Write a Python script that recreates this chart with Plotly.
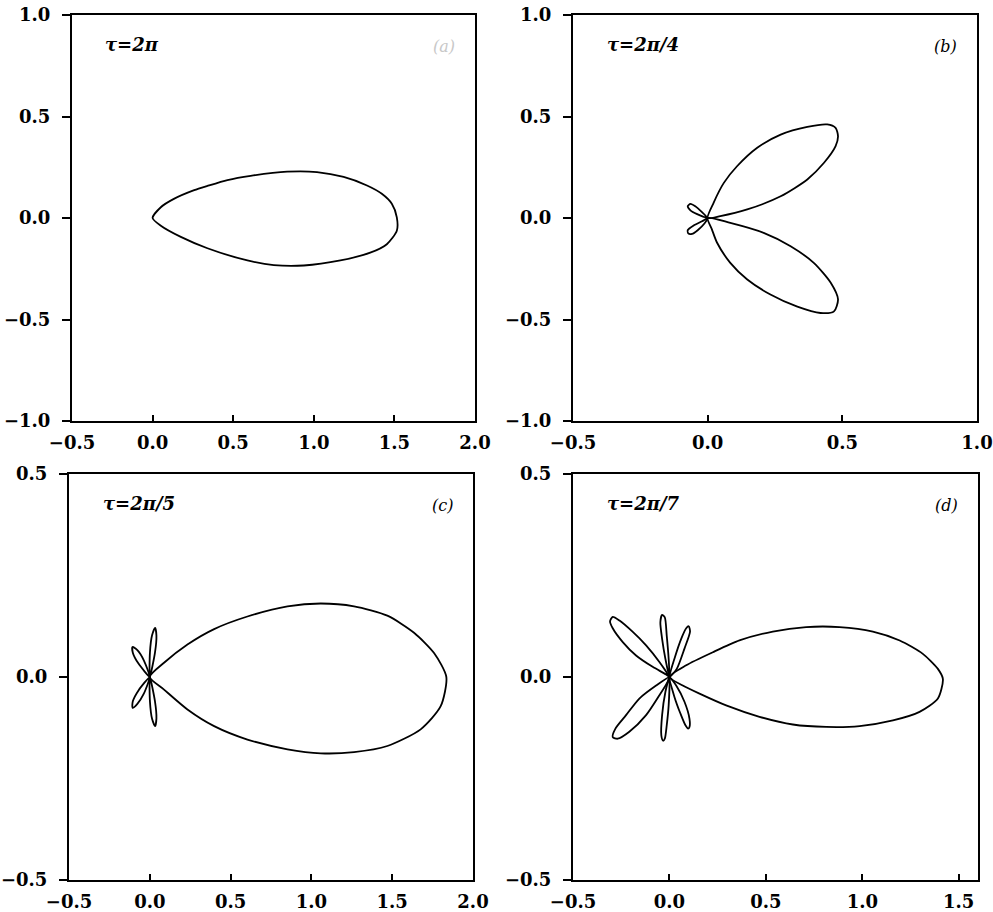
import plotly.graph_objects as go

# ---------------- data ----------------
# panel (a): tau = 2*pi
A_X = [0.0, 0.051, 0.132, 0.258, 0.340, 0.464, 0.608, 0.835, 1.020, 1.185, 1.330, 1.422, 1.484, 1.515,
       1.515, 1.453, 1.350, 1.165, 0.938, 0.752, 0.588, 0.340, 0.175, 0.051, 0.0]
A_Y = [0.0, 0.053, 0.094, 0.137, 0.158, 0.187, 0.208, 0.228, 0.226, 0.202, 0.160, 0.119, 0.070, 0.003,
       -0.063, -0.129, -0.171, -0.209, -0.234, -0.232, -0.209, -0.149, -0.093, -0.038, 0.0]

# panel (b): tau = 2*pi/4
B_UP_X = [0, 0.022, 0.060, 0.109, 0.184, 0.271, 0.370, 0.444, 0.475, 0.484, 0.475, 0.432, 0.370, 0.271, 0.147, 0.047, 0]
B_UP_Y = [0, 0.075, 0.173, 0.255, 0.346, 0.411, 0.449, 0.461, 0.444, 0.403, 0.354, 0.272, 0.190, 0.107, 0.042, 0.009, 0]
B_LO_X = [0, 0.016, 0.035, 0.084, 0.147, 0.233, 0.333, 0.419, 0.469, 0.484, 0.457, 0.394, 0.308, 0.208, 0.084, 0]
B_LO_Y = [0, -0.057, -0.122, -0.221, -0.303, -0.377, -0.437, -0.468, -0.460, -0.401, -0.319, -0.221, -0.139, -0.073, -0.024, 0]
B_SU_X = [0, -0.021, -0.046, -0.064, -0.074, -0.064, -0.039, -0.015, 0]
B_SU_Y = [0, 0.029, 0.058, 0.070, 0.058, 0.038, 0.019, 0.006, 0]
B_SL_X = [0, -0.021, -0.052, -0.074, -0.072, -0.058, -0.037, -0.012, 0]
B_SL_Y = [0, -0.016, -0.037, -0.060, -0.076, -0.078, -0.060, -0.027, 0]

# panel (c): tau = 2*pi/5
C_MAIN_X = [0.0, 0.088, 0.233, 0.398, 0.604, 0.852, 1.058, 1.264, 1.470, 1.635, 1.759, 1.835,
            1.800, 1.676, 1.470, 1.264, 1.058, 0.852, 0.604, 0.398, 0.233, 0.088, 0.0]
C_MAIN_Y = [0.0, 0.035, 0.080, 0.118, 0.149, 0.174, 0.181, 0.174, 0.151, 0.109, 0.059, 0.0,
            -0.072, -0.129, -0.170, -0.185, -0.188, -0.178, -0.154, -0.121, -0.080, -0.031, 0.0]
C_P1_X = [0, 0.001, 0.014, 0.033, 0.041, 0.032, 0]
C_P1_Y = [0, 0.061, 0.103, 0.121, 0.102, 0.060, 0]
C_P2_X = [0, -0.037, -0.077, -0.107, -0.105, -0.070, 0]
C_P2_Y = [0, 0.041, 0.066, 0.074, 0.060, 0.033, 0]
C_P3_X = [0, -0.070, -0.105, -0.107, -0.077, -0.037, 0]
C_P3_Y = [0, -0.033, -0.060, -0.076, -0.066, -0.041, 0]
C_P4_X = [0, 0.032, 0.041, 0.033, 0.014, 0.001, 0]
C_P4_Y = [0, -0.060, -0.102, -0.121, -0.103, -0.061, 0]

# panel (d): tau = 2*pi/7
D_MAIN_X = [0.0, 0.087, 0.225, 0.363, 0.536, 0.709, 0.882, 1.055, 1.194, 1.314, 1.392, 1.418,
            1.392, 1.297, 1.159, 0.986, 0.813, 0.640, 0.467, 0.294, 0.156, 0.069, 0.0]
D_MAIN_Y = [0.0, 0.029, 0.061, 0.090, 0.112, 0.123, 0.123, 0.112, 0.090, 0.057, 0.020, -0.005,
            -0.053, -0.086, -0.107, -0.121, -0.123, -0.117, -0.098, -0.070, -0.041, -0.021, 0.0]
D_P1_X = [0, -0.052, -0.121, -0.190, -0.259, -0.294, -0.308, -0.294, -0.242, -0.173, -0.087, -0.017, 0]
D_P1_Y = [0, 0.037, 0.078, 0.111, 0.139, 0.148, 0.137, 0.120, 0.086, 0.053, 0.025, 0.006, 0]
D_P2_X = [0, -0.069, -0.156, -0.225, -0.280, -0.294, -0.268, -0.208, -0.121, -0.052, -0.009, 0]
D_P2_Y = [0, -0.021, -0.053, -0.094, -0.127, -0.148, -0.152, -0.135, -0.094, -0.045, -0.012, 0]
D_P3_X = [0, -0.021, -0.038, -0.047, -0.038, -0.024, -0.014, -0.004, 0]
D_P3_Y = [0, 0.045, 0.094, 0.135, 0.153, 0.147, 0.102, 0.045, 0]
D_P4_X = [0, 0.026, 0.061, 0.087, 0.100, 0.107, 0.078, 0.038, 0]
D_P4_Y = [0, 0.045, 0.094, 0.120, 0.125, 0.112, 0.070, 0.020, 0]
D_P5_X = [0, -0.004, -0.014, -0.024, -0.033, -0.042, -0.038, -0.021, 0]
D_P5_Y = [0, -0.070, -0.119, -0.152, -0.157, -0.144, -0.094, -0.037, 0]
D_P6_X = [0, 0.035, 0.078, 0.104, 0.104, 0.097, 0.083, 0.057, 0.026, 0]
D_P6_Y = [0, -0.021, -0.061, -0.103, -0.123, -0.127, -0.119, -0.090, -0.049, 0]

TAU_LABELS = ["τ=2π", "τ=2π/4", "τ=2π/5", "τ=2π/7"]
PANEL_LABELS = ["(a)", "(b)", "(c)", "(d)"]

X_RANGES = [[-0.5, 2.0], [-0.5, 1.0], [-0.5, 2.0], [-0.5, 1.6]]
Y_RANGES = [[-1.0, 1.0], [-1.0, 1.0], [-0.5, 0.5], [-0.5, 0.5]]
X_TICKS = [[-0.5, 0.0, 0.5, 1.0, 1.5, 2.0], [-0.5, 0.0, 0.5, 1.0],
           [-0.5, 0.0, 0.5, 1.0, 1.5, 2.0], [-0.5, 0.0, 0.5, 1.0, 1.5]]
Y_TICKS = [[-1.0, -0.5, 0.0, 0.5, 1.0], [-1.0, -0.5, 0.0, 0.5, 1.0],
           [-0.5, 0.0, 0.5], [-0.5, 0.0, 0.5]]

# ---------------- figure ----------------
W, H = 993, 912
# panel boxes in pixels: (left, right, top, bottom)
BOXES = [(72, 475, 15, 421), (573, 977, 15, 421), (69, 473, 474, 880), (573, 978, 474, 880)]

curves = [
    [(A_X, A_Y)],
    [(B_UP_X, B_UP_Y), (B_LO_X, B_LO_Y), (B_SU_X, B_SU_Y), (B_SL_X, B_SL_Y)],
    [(C_MAIN_X, C_MAIN_Y), (C_P1_X, C_P1_Y), (C_P2_X, C_P2_Y), (C_P3_X, C_P3_Y), (C_P4_X, C_P4_Y)],
    [(D_MAIN_X, D_MAIN_Y), (D_P1_X, D_P1_Y), (D_P2_X, D_P2_Y), (D_P3_X, D_P3_Y),
     (D_P4_X, D_P4_Y), (D_P5_X, D_P5_Y), (D_P6_X, D_P6_Y)],
]

fig = go.Figure()
FONT = "DejaVu Serif"
layout = dict(width=W, height=H, margin=dict(l=0, r=0, t=0, b=0, autoexpand=False),
              paper_bgcolor="white", plot_bgcolor="white", showlegend=False)
annotations = []
for i in range(4):
    n = "" if i == 0 else str(i + 1)
    l, r, t, b = BOXES[i]
    for xs, ys in curves[i]:
        fig.add_trace(go.Scatter(x=xs, y=ys, mode="lines", xaxis="x" + n, yaxis="y" + n,
                                 line=dict(color="black", width=1.8, shape="spline", smoothing=0.7),
                                 hoverinfo="skip"))
    axcommon = dict(showline=True, mirror=True, linecolor="black", linewidth=2,
                    showgrid=False, zeroline=False, tickwidth=1.5,
                    tickcolor="black", tickformat=".1f", automargin=False,
                    ticklabeloverflow="allow",
                    tickfont=dict(family=FONT, size=18, color="black", weight="bold"))
    layout["xaxis" + n] = dict(axcommon, domain=[l / W, r / W], range=X_RANGES[i],
                               tickvals=X_TICKS[i], anchor="y" + n, ticks="inside", ticklen=6,
                               ticklabelstandoff=4)
    layout["yaxis" + n] = dict(axcommon, domain=[1 - b / H, 1 - t / H], range=Y_RANGES[i],
                               tickvals=Y_TICKS[i], anchor="x" + n, ticks="outside", ticklen=8,
                               ticklabelstandoff=8)
    annotations.append(dict(text="<b><i>" + TAU_LABELS[i] + "</i></b>", xref="x" + n + " domain",
                            yref="y" + n + " domain", x=0.078, y=0.928, xanchor="left",
                            yanchor="middle", showarrow=False,
                            font=dict(family=FONT, size=18, color="black")))
    annotations.append(dict(text="<i>" + PANEL_LABELS[i] + "</i>", xref="x" + n + " domain",
                            yref="y" + n + " domain", x=0.955, y=0.922, xanchor="right",
                            yanchor="middle", showarrow=False,
                            font=dict(family=FONT, size=16,
                                      color="#c8c8c8" if i == 0 else "black")))
layout["annotations"] = annotations
fig.update_layout(**layout)
fig.write_html("out.html", config={"displayModeBar": False},
               post_script="document.body.style.margin='0';")
